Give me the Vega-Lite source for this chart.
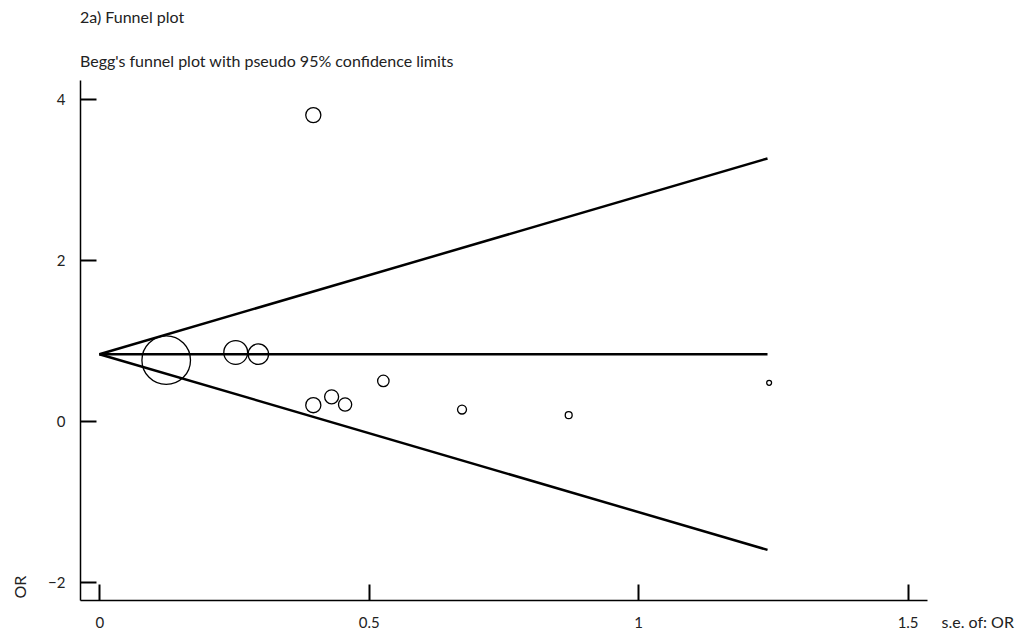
{
  "$schema": "https://vega.github.io/schema/vega-lite/v6.json",
  "autosize": "none",
  "width": 847,
  "height": 520,
  "padding": {"left": 80, "top": 80, "right": 93, "bottom": 31},
  "background": "white",
  "config": {
    "view": {"stroke": null},
    "font": "Lato",
    "axis": {
      "grid": false,
      "domainColor": "#000",
      "domainWidth": 1.5,
      "tickColor": "#000",
      "tickWidth": 2,
      "tickSize": -16,
      "labelFont": "Lato",
      "labelFontSize": 15,
      "labelColor": "#222",
      "titleFont": "Lato",
      "titleFontSize": 16,
      "titleFontWeight": "normal",
      "titleColor": "#222"
    }
  },
  "title": {
    "text": "2a) Funnel plot",
    "subtitle": "Begg's funnel plot with pseudo 95% confidence limits",
    "anchor": "start",
    "frame": "group",
    "font": "Lato",
    "fontSize": 16,
    "fontWeight": "normal",
    "color": "#222",
    "subtitleFontSize": 16,
    "subtitleColor": "#222",
    "subtitleFont": "Lato",
    "subtitlePadding": 28,
    "offset": 10
  },
  "datasets": {
    "lines": [
      {"se": 0, "value": 0.832, "line": "upper"},
      {"se": 1.24, "value": 3.262, "line": "upper"},
      {"se": 0, "value": 0.832, "line": "center"},
      {"se": 1.24, "value": 0.832, "line": "center"},
      {"se": 0, "value": 0.832, "line": "lower"},
      {"se": 1.24, "value": -1.598, "line": "lower"}
    ],
    "studies": [
      {"se": 0.124, "value": 0.758, "weight": 65},
      {"se": 0.253, "value": 0.853, "weight": 15.6},
      {"se": 0.295, "value": 0.832, "weight": 11.5},
      {"se": 0.397, "value": 0.199, "weight": 6.3},
      {"se": 0.397, "value": 3.80, "weight": 6.3},
      {"se": 0.431, "value": 0.302, "weight": 5.4},
      {"se": 0.456, "value": 0.207, "weight": 4.8},
      {"se": 0.527, "value": 0.50, "weight": 3.6},
      {"se": 0.673, "value": 0.145, "weight": 2.2},
      {"se": 0.871, "value": 0.075, "weight": 1.32},
      {"se": 1.243, "value": 0.476, "weight": 0.65}
    ]
  },
  "encoding": {
    "x": {
      "field": "se",
      "type": "quantitative",
      "scale": {"domain": [-0.036, 1.536], "nice": false, "zero": false},
      "axis": {
        "values": [0, 0.5, 1, 1.5],
        "format": "~g",
        "title": "s.e. of: OR",
        "labelPadding": 31,
        "titleX": 861,
        "titleY": 22,
        "titleAlign": "left",
        "titleBaseline": "middle",
        "titleAnchor": null
      }
    },
    "y": {
      "field": "value",
      "type": "quantitative",
      "scale": {"domain": [-2.22, 4.236], "nice": false, "zero": false},
      "axis": {
        "values": [-2, 0, 2, 4],
        "format": "~g",
        "title": "OR",
        "labelPadding": 31,
        "titleAngle": -90,
        "titleX": -60,
        "titleY": 518,
        "titleAlign": "left",
        "titleBaseline": "middle"
      }
    }
  },
  "layer": [
    {
      "data": {"name": "lines"},
      "mark": {"type": "line", "color": "#000", "strokeWidth": 2.5},
      "encoding": {"detail": {"field": "line", "type": "nominal"}}
    },
    {
      "data": {"name": "studies"},
      "mark": {"type": "point", "shape": "circle", "filled": false, "stroke": "#000", "strokeWidth": 1.3, "opacity": 1},
      "encoding": {
        "size": {
          "field": "weight",
          "type": "quantitative",
          "scale": {"type": "linear", "domain": [0, 65], "range": [0, 2360], "zero": true},
          "legend": null
        }
      }
    }
  ]
}
